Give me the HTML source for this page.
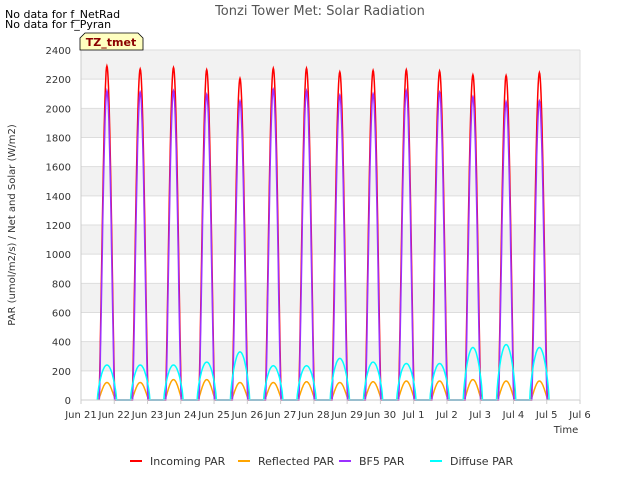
<!DOCTYPE html>
<html><head><meta charset="utf-8"><style>
body{margin:0;background:#fff;font-family:"Liberation Sans","DejaVu Sans",sans-serif;}
svg text{font-family:"DejaVu Sans","Liberation Sans",sans-serif;}
</style></head><body>
<svg id="c" width="640" height="480" xmlns="http://www.w3.org/2000/svg">
<rect width="640" height="480" fill="#fff"/>
<text x="5" y="18" font-size="11">No data for f_NetRad</text>
<text x="5" y="28" font-size="11">No data for f_Pyran</text>
<text x="320" y="15" font-size="13" fill="#555" text-anchor="middle">Tonzi Tower Met: Solar Radiation</text>
<g id="bands"></g>
<g id="grid"></g>
<g id="series"></g>
<g id="axes"></g>
<path d="M80,50 L80,38 L85,33 L138,33 L143,38 L143,50 Z" fill="#ffffc0" stroke="#000" stroke-width="0.8"/>
<text x="111" y="46" font-size="11" font-weight="bold" fill="#8b0000" text-anchor="middle">TZ_tmet</text>
<text x="15" y="225" font-size="10" fill="#333" text-anchor="middle" transform="rotate(-90 15 225)">PAR (umol/m2/s) / Net and Solar (W/m2)</text>
<text x="566" y="433" font-size="10" fill="#333" text-anchor="middle">Time</text>
<g id="legend"></g>
</svg>
<script>
const yTicks=[0,200,400,600,800,1000,1200,1400,1600,1800,2000,2200,2400];
const xTickLabels=["Jun 21","Jun 22","Jun 23","Jun 24","Jun 25","Jun 26","Jun 27","Jun 28","Jun 29","Jun 30","Jul 1","Jul 2","Jul 3","Jul 4","Jul 5","Jul 6"];
const incomingPeaks=[2290,2270,2280,2265,2205,2275,2275,2250,2260,2265,2255,2230,2225,2245];
const bf5Peaks=[2120,2110,2120,2095,2050,2130,2120,2090,2100,2120,2110,2080,2045,2050];
const reflectedPeaks=[120,120,140,140,120,120,125,120,125,130,130,140,130,130];
const diffusePeaks=[240,240,240,260,330,235,235,285,260,250,250,360,380,360];
const L=81,R=580,T=50,B=400;
const xs=d=>L+(R-L)*d/15, ys=v=>B-(B-T)*v/2400;
const NS="http://www.w3.org/2000/svg";
function mk(tag,attrs,parent){const e=document.createElementNS(NS,tag);for(const k in attrs)e.setAttribute(k,attrs[k]);document.getElementById(parent).appendChild(e);return e;}
for(let i=0;i<yTicks.length-1;i++){
 if(i%2==1){const r=mk('rect',{x:L,y:ys(yTicks[i+1]),width:R-L,height:ys(yTicks[i])-ys(yTicks[i+1]),fill:'#f2f2f2'},'bands');
 
 }
}
yTicks.forEach(v=>{
 const g=mk('line',{x1:L,x2:R,y1:ys(v),y2:ys(v),stroke:'#ddd','stroke-width':1},'grid');
 
 
 const t=mk('text',{x:L-10,y:ys(v)+4,'font-size':10,fill:'#333','text-anchor':'end'},'axes');t.textContent=v;
 
 
});
mk('line',{x1:L,x2:L,y1:T,y2:B,stroke:'#ccc'},'axes');
mk('line',{x1:L,x2:R,y1:B,y2:B,stroke:'#ccc'},'axes');
mk('line',{x1:R,x2:R,y1:T,y2:B,stroke:'#ddd'},'axes');
mk('line',{x1:L,x2:R,y1:T,y2:T,stroke:'#ddd'},'axes');
xTickLabels.forEach((s,i)=>{
 mk('line',{x1:xs(i),x2:xs(i),y1:B,y2:B+4,stroke:'#ccc'},'axes');
 const t=mk('text',{x:xs(i),y:B+18,'font-size':10,fill:'#333','text-anchor':'middle'},'axes');t.textContent=s;
 
 
});
const noon=0.78, half=0.24;
function path(peaks,hw,pw){
 let d='';
 for(let day=0;day<peaks.length;day++){
  for(let k=0;k<=40;k++){
   const f=day+noon-hw+2*hw*k/40;
   const v=peaks[day]*Math.pow(Math.max(0,Math.cos(Math.PI/2*(f-day-noon)/hw)),pw);
   d+=(d?'L':'M')+xs(f).toFixed(1)+','+ys(v).toFixed(1);
  }
 }
 return d;
}
const series=[
 ['incoming-par-line','red',incomingPeaks,half,1.3],
 ['reflected-par-line','orange',reflectedPeaks,half+0.02,1.2],
 ['bf5-par-line','#9b30ff',bf5Peaks,half-0.01,1.3],
 ['diffuse-par-line','cyan',diffusePeaks,half+0.05,0.7]
];
series.forEach(s=>{
 const p=mk('path',{d:path(s[2],s[3],s[4]),fill:'none',stroke:s[1],'stroke-width':1.5},'series');
 
 
});
const leg=[['Incoming PAR','red',130],['Reflected PAR','orange',238],['BF5 PAR','#9b30ff',339],['Diffuse PAR','cyan',430]];
leg.forEach(l=>{
 const ln=mk('line',{x1:l[2],x2:l[2]+12,y1:461,y2:461,stroke:l[1],'stroke-width':2},'legend');
 
 
 const t=mk('text',{x:l[2]+20,y:465,'font-size':11,fill:'#333'},'legend');t.textContent=l[0];
 
 
});
</script>
</body></html>
